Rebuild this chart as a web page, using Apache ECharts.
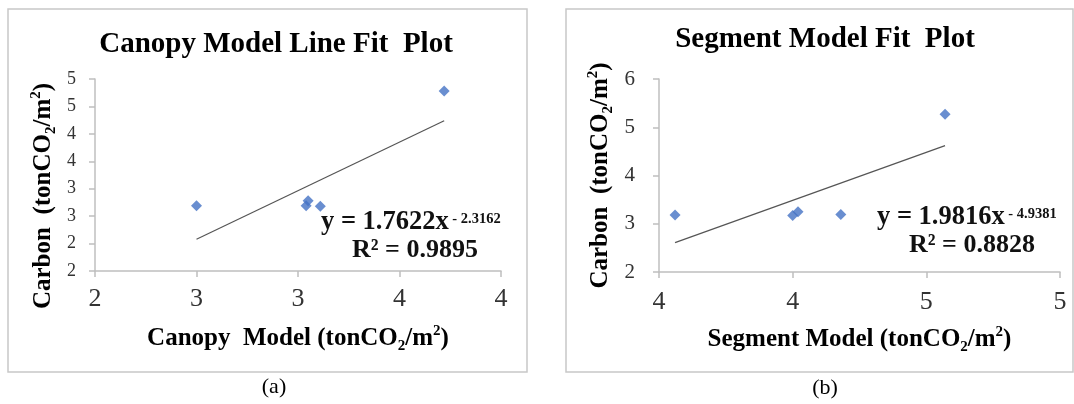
<!DOCTYPE html>
<html>
<head>
<meta charset="utf-8">
<script src="https://cdn.jsdelivr.net/npm/echarts@6/dist/echarts.min.js"></script>
<style>
  html, body { margin: 0; padding: 0; background: #fff; }
  #chart { width: 1074px; height: 404px; }
</style>
</head>
<body>
<div id="chart"></div>
<script>
// canopy model panel (a)
var canopyX = [2.50, 3.04, 3.05, 3.11, 3.72];
var canopyY = [2.69, 2.69, 2.78, 2.68, 4.78];
var canopyTrendX = [2.50, 3.72];
var canopyTrendY = [2.08, 4.24];
var canopyEquation = ['y = 1.7622x', ' - 2.3162', 'R\u00b2 = 0.9895'];

// segment model panel (b)
var segmentX = [3.56, 4.00, 4.02, 4.18, 4.57];
var segmentY = [3.18, 3.17, 3.25, 3.19, 5.27];
var segmentTrendX = [3.56, 4.57];
var segmentTrendY = [2.61, 4.62];
var segmentEquation = ['y = 1.9816x', ' - 4.9381', 'R\u00b2 = 0.8828'];

var titles = ['Canopy Model Line Fit  Plot', 'Segment Model Fit  Plot'];
var captions = ['(a)', '(b)'];

var FONT = 'Liberation Serif';
var AXIS_GRAY = '#bfbfbf';

function pairs(xs, ys) {
  var out = [];
  for (var i = 0; i < xs.length; i++) out.push([xs[i], ys[i]]);
  return out;
}

// subscript / superscript styles for the axis names
var nameRich = {
  sub: { fontFamily: FONT, fontWeight: 'bold', fontSize: 15, color: '#000', verticalAlign: 'bottom', lineHeight: 22 },
  sup: { fontFamily: FONT, fontWeight: 'bold', fontSize: 15, color: '#000', verticalAlign: 'top', lineHeight: 22 }
};

function xAxisOpt(idx, min, max, labelSize, labelMargin, name) {
  return {
    type: 'value', gridIndex: idx, min: min, max: max, interval: 0.5,
    name: name, nameLocation: 'middle', nameGap: 53,
    nameTextStyle: { fontFamily: FONT, fontWeight: 'bold', fontSize: 25, color: '#000', lineHeight: 30, rich: nameRich },
    axisLine: { lineStyle: { color: AXIS_GRAY, width: 1.5 } },
    axisTick: { show: true, inside: false, length: 6, lineStyle: { color: AXIS_GRAY, width: 1.5 } },
    splitLine: { show: false },
    axisLabel: {
      fontFamily: FONT, fontSize: labelSize, color: '#333', margin: labelMargin,
      showMinLabel: true, showMaxLabel: true,
      formatter: function (v) { return Math.round(v); }
    }
  };
}

function yAxisOpt(idx, min, max, interval, labelSize, labelMargin, nameGap, namePad) {
  return {
    type: 'value', gridIndex: idx, min: min, max: max, interval: interval,
    name: 'Carbon  (tonCO{sub|2}/m{sup|2})', nameLocation: 'middle', nameGap: nameGap, nameRotate: 90,
    nameTextStyle: { fontFamily: FONT, fontWeight: 'bold', fontSize: 25, color: '#000', lineHeight: 30, rich: nameRich, padding: namePad },
    axisLine: { show: true, lineStyle: { color: AXIS_GRAY, width: 1.5 } },
    axisTick: { show: true, inside: false, length: 6, lineStyle: { color: AXIS_GRAY, width: 1.5 } },
    splitLine: { show: false },
    axisLabel: {
      fontFamily: FONT, fontSize: labelSize, color: '#333', margin: labelMargin,
      showMinLabel: true, showMaxLabel: true,
      formatter: function (v) { return Math.round(v); }
    }
  };
}

function scatterSeries(idx, xs, ys) {
  return {
    type: 'scatter', xAxisIndex: idx, yAxisIndex: idx,
    symbol: 'diamond', symbolSize: 11,
    itemStyle: { color: '#4472c4' },
    data: pairs(xs, ys), z: 3
  };
}

function trendSeries(idx, xs, ys) {
  return {
    type: 'line', xAxisIndex: idx, yAxisIndex: idx,
    symbol: 'none', silent: true,
    lineStyle: { color: '#555', width: 1.2 },
    data: pairs(xs, ys), z: 2
  };
}

// equation: main part with a small raised part after it
function equationText(eq, x, y) {
  return {
    type: 'text', x: x, y: y, z: 10,
    style: {
      text: '{m|' + eq[0] + '}{s|' + eq[1] + '}',
      verticalAlign: 'middle',
      rich: {
        m: { fontFamily: FONT, fontWeight: 'bold', fontSize: 26.5, fill: '#111', lineHeight: 30, verticalAlign: 'middle' },
        s: { fontFamily: FONT, fontWeight: 'bold', fontSize: 14.5, fill: '#111', lineHeight: 16, verticalAlign: 'top', padding: [5, 0, 0, 0] }
      }
    }
  };
}

function rSquaredText(eq, x, y) {
  return {
    type: 'text', x: x, y: y, z: 10,
    style: { text: eq[2], font: 'bold 26px "' + FONT + '"', fill: '#111', align: 'left', verticalAlign: 'middle' }
  };
}

function frame(x, y, w, h) {
  return { type: 'rect', shape: { x: x, y: y, width: w, height: h }, style: { fill: null, stroke: '#c8c8c8', lineWidth: 1.5 }, silent: true };
}

function plainText(txt, x, y, size, bold) {
  return {
    type: 'text', x: x, y: y,
    style: { text: txt, font: (bold ? 'bold ' : '') + size + 'px "' + FONT + '"', fill: '#000', align: 'center', verticalAlign: 'middle' }
  };
}

var chart = echarts.init(document.getElementById('chart'), null, { renderer: 'canvas' });

var option = {
  backgroundColor: '#fff',
  animation: false,
  grid: [
    { left: 95, top: 79, width: 406, height: 192 },
    { left: 659, top: 79, width: 401, height: 193 }
  ],
  xAxis: [
    xAxisOpt(0, 2, 4, 26, 15, 'Canopy  Model (tonCO{sub|2}/m{sup|2})'),
    xAxisOpt(1, 3.5, 5, 26, 17, 'Segment Model (tonCO{sub|2}/m{sup|2})')
  ],
  yAxis: [
    yAxisOpt(0, 1.5, 5, 0.5, 18, 19, 36, [0, 42, 0, 0]),
    yAxisOpt(1, 2, 6, 1, 21, 24, 43, 0)
  ],
  series: [
    trendSeries(0, canopyTrendX, canopyTrendY),
    scatterSeries(0, canopyX, canopyY),
    trendSeries(1, segmentTrendX, segmentTrendY),
    scatterSeries(1, segmentX, segmentY)
  ],
  graphic: [
    frame(8, 9, 519, 363),
    frame(566, 9, 507, 363),
    plainText(titles[0], 276, 45, 29, true),
    plainText(titles[1], 825, 40, 29, true),
    plainText(captions[0], 274, 387, 22, false),
    plainText(captions[1], 825, 388, 22, false),
    equationText(canopyEquation, 321, 222),
    rSquaredText(canopyEquation, 352, 250),
    equationText(segmentEquation, 877, 217),
    rSquaredText(segmentEquation, 909, 245)
  ]
};

chart.setOption(option);
</script>
</body>
</html>
